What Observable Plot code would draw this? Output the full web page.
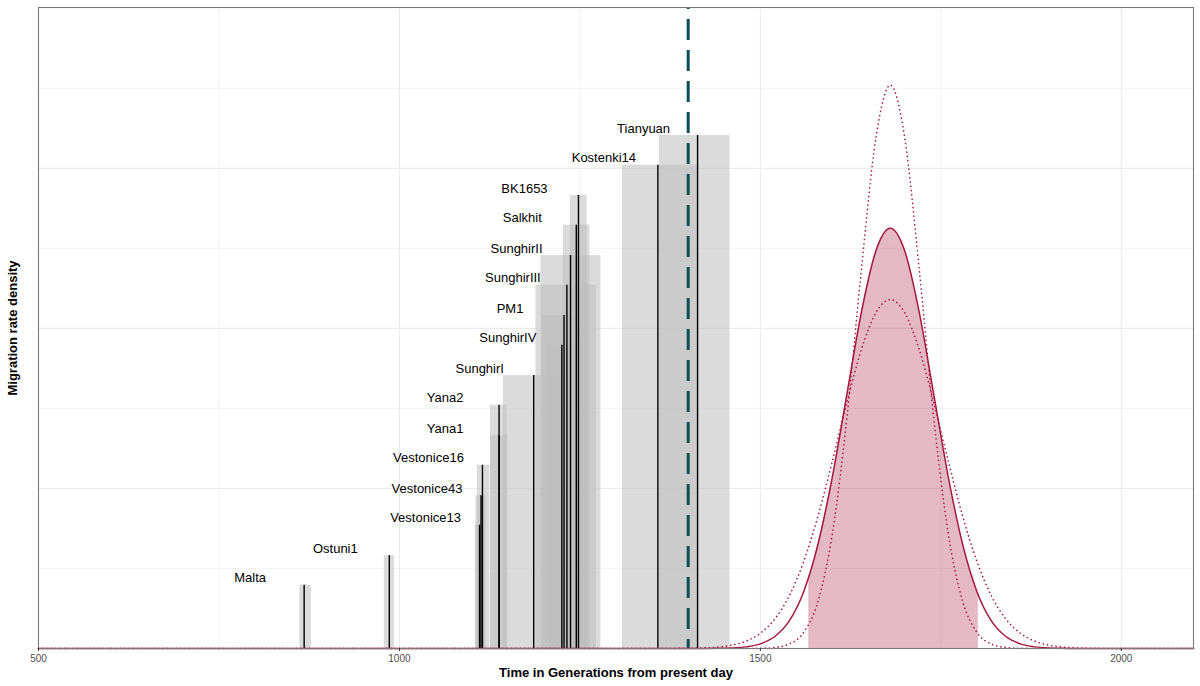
<!DOCTYPE html>
<html><head><meta charset="utf-8">
<script src="https://cdn.jsdelivr.net/npm/d3@7"></script>
<script src="https://cdn.jsdelivr.net/npm/@observablehq/plot@0.6"></script>
<style>body{margin:0;background:#fff;}</style>
</head><body><div id="chart"></div>
<script>
// Samples (time in generations)
const sampleNames = ["Malta","Ostuni1","Vestonice13","Vestonice43","Vestonice16","Yana1","Yana2","SunghirI","SunghirIV","PM1","SunghirIII","SunghirII","Salkhit","BK1653","Kostenki14","Tianyuan"];
const sampleCenter = [868, 986, 1111, 1113, 1115, 1138, 1138, 1186, 1225, 1228, 1232, 1237, 1245, 1248, 1358, 1413];
const sampleLow    = [862, 979, 1105, 1106, 1108, 1126, 1126, 1144, 1205, 1198, 1189, 1196, 1227, 1237, 1309, 1360];
const sampleHigh   = [878, 993, 1118, 1120, 1125, 1150, 1149, 1228, 1250, 1258, 1273, 1279, 1264, 1260, 1413, 1458];
const sampleLevel  = [0.79, 1.16, 1.54, 1.91, 2.29, 2.66, 3.04, 3.41, 3.79, 4.16, 4.54, 4.91, 5.29, 5.66, 6.04, 6.41];

// Split time (dashed line)
const splitTime = [1400];

// Migration density curves (density x 1e-3)
const curveX = [500,1380,1400,1420,1440,1460,1480,1500,1520,1540,1560,1580,1600,1620,1640,1660,1680,1700,1720,1740,1760,1780,1800,1820,1840,1860,1880,1900,1920,1940,1960,1980,2100];
const densityMain  = [0,0,0.0001,0.0004,0.0018,0.0063,0.0203,0.0583,0.150,0.345,0.7105,1.309,2.158,3.184,4.204,4.967,5.25,4.967,4.204,3.184,2.158,1.309,0.7105,0.345,0.150,0.0583,0.0203,0.0063,0.0018,0.0004,0.0001,0,0];
const densityUpper = [0,0,0,0,0,0,0.0004,0.0024,0.0127,0.0557,0.201,0.596,1.450,2.894,4.742,6.378,7.04,6.378,4.742,2.894,1.450,0.596,0.201,0.0557,0.0127,0.0024,0.0004,0,0,0,0,0,0];
const densityLower = [0,0.0007,0.0023,0.0064,0.0169,0.0409,0.0920,0.1916,0.369,0.658,1.087,1.662,2.352,3.081,3.737,4.195,4.36,4.195,3.737,3.081,2.352,1.662,1.087,0.658,0.369,0.1916,0.0920,0.0409,0.0169,0.0064,0.0023,0.0007,0];

// Shaded interval of main density
const shadeBounds = [1567, 1802];
const shadeBoundHeights = [0.84, 0.65];

// Axis ticks / grid
const xMajor = [500, 1000, 1500, 2000];
const xMinor = [750, 1250, 1750];
const yMajor = [0, 2, 4, 6];
const yMinor = [1, 3, 5, 7];

const xTitle = "Time in Generations from present day";
const yTitle = "Migration rate density";

const samples = sampleNames.map((name, i) => ({
  name, center: sampleCenter[i], lo: sampleLow[i], hi: sampleHigh[i], level: sampleLevel[i]
}));
const curves = curveX.map((x, i) => ({x, main: densityMain[i], upper: densityUpper[i], lower: densityLower[i]}));
const shade = [
  {x: shadeBounds[0], y: shadeBoundHeights[0]},
  ...curves.filter(d => d.x > shadeBounds[0] && d.x < shadeBounds[1]).map(d => ({x: d.x, y: d.main})),
  {x: shadeBounds[1], y: shadeBoundHeights[1]}
];

const crimson = "#a5173f";

const chart = Plot.plot({
  width: 1200, height: 686,
  marginLeft: 38, marginRight: 7, marginTop: 7, marginBottom: 38,
  style: {fontFamily: "'Liberation Sans', Arial, sans-serif", background: "white", overflow: "visible"},
  x: {domain: [500, 2100], axis: null},
  y: {domain: [0, 8.01], axis: null},
  marks: [
    Plot.gridX(xMinor, {stroke: "#ebebeb", strokeOpacity: 1, strokeWidth: 0.6}),
    Plot.gridY(yMinor, {stroke: "#ebebeb", strokeOpacity: 1, strokeWidth: 0.6}),
    Plot.gridX(xMajor, {stroke: "#ebebeb", strokeOpacity: 1, strokeWidth: 1.1}),
    Plot.gridY(yMajor, {stroke: "#ebebeb", strokeOpacity: 1, strokeWidth: 1.1}),
    Plot.rectY(samples, {x1: "lo", x2: "hi", y1: 0, y2: "level", fill: "#bebebe", fillOpacity: 0.55}),
    Plot.ruleX(samples, {x: "center", y1: 0, y2: "level", stroke: "black", strokeWidth: 1.4}),
    Plot.ruleX(splitTime, {stroke: "#0b4f55", strokeWidth: 3, strokeDasharray: "21,10", strokeDashoffset: 19}),
    Plot.areaY(shade, {x: "x", y: "y", fill: crimson, fillOpacity: 0.3, curve: "monotone-x"}),
    Plot.line(curves, {x: "x", y: "upper", stroke: crimson, strokeWidth: 1.6, strokeDasharray: "0.1,4.2", strokeLinecap: "round", curve: "monotone-x"}),
    Plot.line(curves, {x: "x", y: "lower", stroke: crimson, strokeWidth: 1.6, strokeDasharray: "0.1,4.2", strokeLinecap: "round", curve: "monotone-x"}),
    Plot.line(curves, {x: "x", y: "main", stroke: crimson, strokeWidth: 1.5, curve: "monotone-x"}),
    Plot.frame({stroke: "#7a7a7a", strokeWidth: 1.1}),
    Plot.text(samples, {x: "center", y: "level", text: "name", dx: -54, dy: -7, fontSize: 13, fill: "black", textAnchor: "middle", lineAnchor: "middle"}),
    Plot.axisX(xMajor, {tickSize: 3, tickPadding: 3, fontSize: 10, fill: "#4d4d4d", stroke: "#333", tickFormat: d => String(d), label: null}),
    Plot.text([xTitle], {text: d => d, frameAnchor: "bottom", dy: 24, fontSize: 13, fontWeight: "bold", fill: "black", textAnchor: "middle", lineAnchor: "middle"}),
    Plot.text([yTitle], {text: d => d, frameAnchor: "left", dx: -26, rotate: -90, fontSize: 13, fontWeight: "bold", fill: "black", textAnchor: "middle", lineAnchor: "middle"})
  ]
});
document.getElementById("chart").appendChild(chart);
</script>
</body></html>
